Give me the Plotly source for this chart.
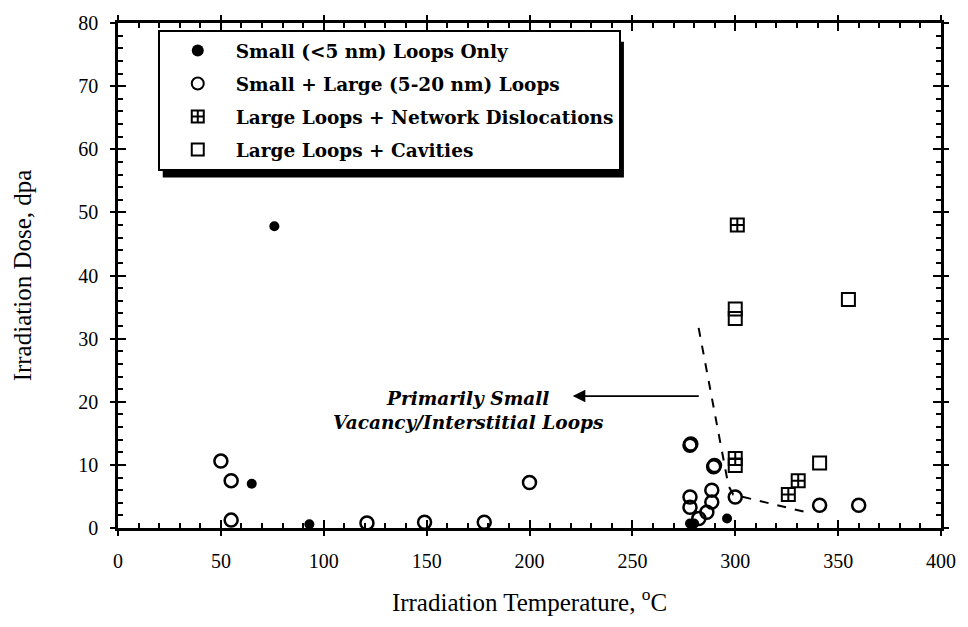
import plotly.graph_objects as go

# ---- data ----
small_T = [76, 65, 93, 278, 280, 296]
small_D = [47.8, 7.0, 0.6, 0.7, 0.7, 1.5]

mixed_T = [50, 55, 55, 121, 149, 178, 200, 278, 278.4, 289.5, 289.9, 278, 278, 288.6, 288.6, 286.2, 282.3, 300, 341, 360]
mixed_D = [10.6, 7.5, 1.25, 0.8, 0.9, 0.9, 7.2, 13.1, 13.3, 9.7, 9.9, 4.9, 3.3, 6.0, 4.1, 2.5, 1.5, 4.9, 3.6, 3.6]

network_T = [301, 300, 330.6, 325.8]
network_D = [48.0, 11.0, 7.5, 5.3]

cavity_T = [300, 300, 300, 355, 341]
cavity_D = [34.7, 33.2, 9.9, 36.2, 10.3]

boundary_T = [282.2, 296.7, 299, 337]
boundary_D = [31.7, 6.7, 5.3, 2.3]

arrow_T = [283, 221]
arrow_D = [20.9, 20.9]

label_T = 170.5
label_D = 18.6

names = ["Small (<5 nm) Loops Only",
         "Small + Large (5-20 nm) Loops",
         "Large Loops + Network Dislocations",
         "Large Loops + Cavities"]

LEG_FONT = "DejaVu Serif"
fig = go.Figure()

# dashed boundary drawn on the overlay axes (same ranges) so those axes get rendered
fig.add_trace(go.Scatter(x=boundary_T, y=boundary_D, mode="lines",
                         xaxis="x2", yaxis="y2",
                         line=dict(color="black", width=2, dash="dash"),
                         showlegend=False, hoverinfo="skip"))

fig.add_trace(go.Scatter(x=small_T, y=small_D, mode="markers", name=names[0],
                         legendgroup="a",
                         marker=dict(symbol="circle", size=10, color="black")))
fig.add_trace(go.Scatter(x=mixed_T, y=mixed_D, mode="markers", name=names[1],
                         legendgroup="b",
                         marker=dict(symbol="circle-open", size=13, color="black",
                                     line=dict(width=2.5, color="black"))))
fig.add_trace(go.Scatter(x=network_T, y=network_D, mode="markers", name=names[2],
                         legendgroup="c",
                         marker=dict(symbol="square-cross-open", size=13, color="black",
                                     line=dict(width=2, color="black"))))
fig.add_trace(go.Scatter(x=cavity_T, y=cavity_D, mode="markers", name=names[3],
                         legendgroup="d",
                         marker=dict(symbol="square-open", size=13, color="black",
                                     line=dict(width=2, color="black"))))

fig.add_annotation(x=arrow_T[1], y=arrow_D[1], ax=arrow_T[0], ay=arrow_D[0],
                   xref="x", yref="y", axref="x", ayref="y",
                   showarrow=True, arrowhead=2, arrowsize=1.4, arrowwidth=1.8,
                   arrowcolor="black", text="")
fig.add_annotation(x=label_T, y=label_D, xref="x", yref="y",
                   text="<b><i>Primarily Small<br>Vacancy/Interstitial Loops</i></b>",
                   showarrow=False, xanchor="center", yanchor="middle",
                   font=dict(family=LEG_FONT, size=18.5, color="black"))

# legend shadow
fig.add_shape(type="rect", xref="paper", yref="paper",
              x0=(163 - 118) / 828, x1=(627 - 118) / 828,
              y0=(528 - 172) / 513, y1=(528 - 34) / 513,
              fillcolor="black", line=dict(width=0), layer="above")

tickfont = dict(family="Liberation Serif", size=20, color="black")
titlefont = dict(family="Liberation Serif", size=25, color="black")
common = dict(showgrid=False, zeroline=False)

fig.update_layout(
    width=968, height=627,
    margin=dict(l=118, r=22, t=15, b=99),
    paper_bgcolor="white", plot_bgcolor="white",
    # main axes: inward half of major ticks, inward minor ticks, labels
    xaxis=dict(range=[0, 400], tickmode="linear", tick0=0, dtick=50,
               ticks="inside", ticklen=8,
               tickwidth=2, tickcolor="black", showline=True, linewidth=2.5,
               linecolor="black", mirror="ticks", tickfont=tickfont,
               ticklabelstandoff=13,
               minor=dict(dtick=10, tick0=0, ticks="inside", ticklen=5,
                          tickwidth=2, tickcolor="black", showgrid=False),
               title=dict(text="Irradiation Temperature, <sup>o</sup>C",
                          font=titlefont, standoff=23),
               **common),
    yaxis=dict(range=[0, 80], tickmode="linear", tick0=0, dtick=10,
               ticks="inside", ticklen=8,
               tickwidth=2, tickcolor="black", showline=True, linewidth=2.5,
               linecolor="black", mirror="ticks", tickfont=tickfont,
               ticklabelstandoff=13,
               minor=dict(dtick=2, tick0=0, ticks="inside", ticklen=5,
                          tickwidth=2, tickcolor="black", showgrid=False),
               title=dict(text="Irradiation Dose, dpa",
                          font=titlefont, standoff=40),
               **common),
    # overlay axes: outward half of the major ticks
    xaxis2=dict(range=[0, 400], overlaying="x", anchor="y2", side="bottom",
                tickmode="linear", tick0=0, dtick=50,
                ticks="outside", ticklen=7, tickwidth=2,
                tickcolor="black", mirror="ticks", showline=False,
                showticklabels=False, **common),
    yaxis2=dict(range=[0, 80], overlaying="y", anchor="x2", side="left",
                tickmode="linear", tick0=0, dtick=10,
                ticks="outside", ticklen=7, tickwidth=2,
                tickcolor="black", mirror="ticks", showline=False,
                showticklabels=False, **common),
    legend=dict(x=(158 - 118) / 828, y=(528 - 22) / 513, xanchor="left", yanchor="top",
                bgcolor="white", bordercolor="black", borderwidth=2,
                font=dict(family=LEG_FONT, size=18.5, color="black", weight="bold"),
                itemwidth=66, tracegroupgap=6, traceorder="grouped",
                itemsizing="constant"),
    showlegend=True,
)

fig.write_html("out.html")
